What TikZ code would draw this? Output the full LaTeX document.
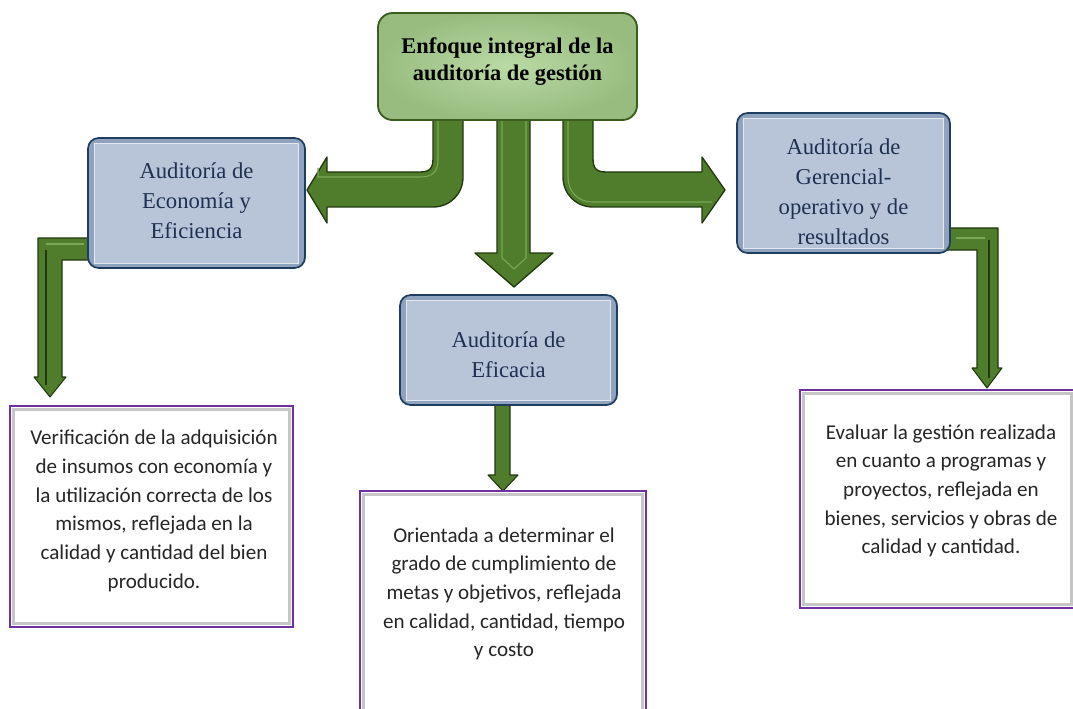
\documentclass[tikz,border=0pt]{standalone}
\usepackage{fontspec}
\setmainfont{Liberation Serif}
\newfontfamily\calib{Carlito}
\usetikzlibrary{backgrounds,calc}
\definecolor{gfill}{HTML}{A9D18E}
\definecolor{gdark}{HTML}{3B5E1F}
\definecolor{afill}{HTML}{4F7D2C}
\definecolor{adark}{HTML}{22380F}
\definecolor{ahi}{HTML}{79A955}
\definecolor{bfill}{HTML}{B8C5D8}
\definecolor{bedge}{HTML}{8FA3BF}
\definecolor{bdark}{HTML}{1F3D5E}
\definecolor{btext}{HTML}{1F3050}
\definecolor{purp}{HTML}{7030A0}
\tikzset{
  topbox/.style={rounded corners=11pt, draw=gdark, line width=1.4pt,
    inner color=gfill!80!white, outer color=gfill!90!black},
  bluebox/.style={rounded corners=8pt, draw=bdark, line width=1.3pt, fill=bedge},
  bluein/.style={fill=bfill, draw=white!60!bfill, line width=0.6pt},
  txtbox/.style={draw=purp, line width=1.6pt, fill=white},
  txtin/.style={draw=gray!45, line width=2.2pt},
  bigarrow/.style={fill=afill, draw=adark, line width=1pt, line join=round},
  smallarrow/.style={fill=afill, draw=adark, line width=0.8pt, line join=round},
  hiline/.style={draw=ahi, line width=0.8pt},
  bluetxt/.style={text=btext, align=center, font=\fontsize{17}{22.5}\selectfont},
  bodytxt/.style={align=center, text=black!85, font=\calib\fontsize{15.8}{21.5}\selectfont}
}
\begin{document}
\begin{tikzpicture}[x=0.75pt,y=-0.75pt]
\useasboundingbox (0,0) rectangle (1073,709);
\clip (0,0) rectangle (1073,709);

% main boxes
\node[topbox, minimum width=194.25pt, minimum height=80.25pt] (top) at (507.5,66.5) {};
\node[font=\bfseries\fontsize{16.8}{20.25}\selectfont, align=center] (toptxt) at (507.5,61.5)
  {Enfoque integral de la\\auditoría de gestión};

\node[bluebox, minimum width=162.75pt, minimum height=97.5pt] (econ) at (196.5,203) {};
\node[bluebox, minimum width=162.75pt, minimum height=82.5pt] (efic) at (508.5,350) {};
\node[bluebox, minimum width=159.75pt, minimum height=105pt] (ger) at (843.5,183) {};
\foreach \b in {econ,efic,ger}{
  \draw[bluein] ($(\b.north west)+(7,6)$) rectangle ($(\b.south east)+(-7,-5)$);
}
\node[bluetxt] (econtxt) at (196.5,201) {Auditoría de\\Economía y\\Eficiencia};
\node[bluetxt] (efictxt) at (508.5,355) {Auditoría de\\Eficacia};
\node[bluetxt] (gertxt) at (843.5,192) {Auditoría de\\Gerencial-\\operativo y de\\resultados};

% text boxes
\node[txtbox, minimum width=212.25pt, minimum height=165.75pt] (t1) at (151.5,516.5) {};
\node[txtbox, minimum width=214.5pt, minimum height=172.5pt] (t2) at (503,606) {};
\node[txtbox, minimum width=206.25pt, minimum height=163.5pt] (t3) at (937.5,499) {};
\foreach \b in {t1,t2,t3}{
  \draw[txtin] ($(\b.north west)+(5,5)$) rectangle ($(\b.south east)+(-5,-5)$);
}
\node[bodytxt] (t1txt) at (154,511) {Verificación de la adquisición\\de insumos con economía y\\la utilización correcta de los\\mismos, reflejada en la\\calidad y cantidad del bien\\producido.};
\node[bodytxt] (t2txt) at (504,594) {Orientada a determinar el\\grado de cumplimiento de\\metas y objetivos, reflejada\\en calidad, cantidad, tiempo\\y costo};
\node[bodytxt] (t3txt) at (941,491) {Evaluar la gestión realizada\\en cuanto a programas y\\proyectos, reflejada en\\bienes, servicios y obras de\\calidad y cantidad.};

% arrows on background
\begin{scope}[on background layer]
% left big arrow
\draw[bigarrow] (433,110) -- (433,158) .. controls (433,168) and (430,172) .. (420,172)
  -- (327,172) -- (327,157) -- (307,190) -- (327,223) -- (327,207)
  -- (433,207) .. controls (450,207) and (463,194) .. (463,177) -- (463,110) -- cycle;
\draw[hiline] (438,121) -- (438,160) .. controls (438,172) and (432,177) .. (420,177) -- (318,177) -- (318,168);
% right big arrow
\draw[bigarrow] (593,110) -- (593,158) .. controls (593,168) and (596,172) .. (606,172)
  -- (702,172) -- (702,157) -- (725,190) -- (702,223) -- (702,207)
  -- (593,207) .. controls (576,207) and (563,194) .. (563,177) -- (563,110) -- cycle;
\draw[hiline] (568,121) -- (568,177) .. controls (568,192) and (578,202) .. (593,202) -- (712,202);
% centre big arrow
\draw[bigarrow] (497,110) -- (497,253) -- (475,253) -- (514,287) -- (553,253) -- (530,253) -- (530,110) -- cycle;
\draw[hiline] (502,121) -- (502,258) -- (514,269) -- (526,258) -- (526,121);
% small left arrow
\draw[smallarrow] (92,238) -- (38,238) -- (38,377) -- (34,377) -- (50,397) -- (66,377) -- (62,377) -- (62,260) -- (92,260) -- cycle;
\draw[draw=adark, line width=1.6pt] (46,250) -- (46,385);
\draw[hiline] (46,244) -- (84,244);
% small right arrow
\draw[smallarrow] (945,228) -- (998,228) -- (998,368) -- (1002,368) -- (987,388) -- (972,368) -- (977,368) -- (977,250) -- (945,250) -- cycle;
\draw[draw=adark, line width=1.6pt] (989,240) -- (989,378);
\draw[hiline] (956,238) -- (985,238);
% small middle arrow
\draw[smallarrow] (495,400) -- (495,475) -- (488,475) -- (503,491) -- (518,475) -- (510,475) -- (510,400) -- cycle;
\end{scope}
\end{tikzpicture}
\end{document}
